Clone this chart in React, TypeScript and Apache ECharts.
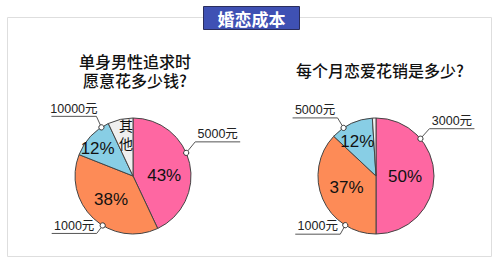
import React, { useEffect, useRef } from "react";
import * as echarts from "echarts";

const leftNames = ["5000元", "1000元", "10000元", "其他"];
const leftValues = [43, 38, 12, 7];
const rightNames = ["3000元", "1000元", "5000元", "其他"];
const rightValues = [50, 37, 12, 1];
const sliceColors = ["#fe67a2", "#fd8b57", "#88cee5", "#efefef"];

const mainTitle = "婚恋成本";
const leftTitleLines = ["单身男性追求时", "愿意花多少钱?"];
const rightTitle = "每个月恋爱花销是多少?";

// callout anchors (annotation layout): slice index, angle clockwise from top, elbow offset, side
const leftCallouts = [
  { idx: 0, angle: 66.5, dx: 9, dy: -11, side: 1 },
  { idx: 2, angle: 327, dx: -5, dy: -11, side: -1 },
  { idx: 1, angle: 211.5, dx: -6, dy: 8, side: -1 },
];
const rightCallouts = [
  { idx: 0, angle: 50, dx: 9, dy: -10, side: 1 },
  { idx: 2, angle: 326, dx: -6, dy: -10, side: -1 },
  { idx: 1, angle: 212, dx: -5, dy: 9, side: -1 },
];

// inner label nudges
const leftInnerShift = [[0, 6], [0, 0], [-12, -6], [0, -11]];
const rightInnerShift = [[-3, 0], [0, -1], [-5, -6], [0, 0]];

const R = 58;
const leftCenter = [133, 176];
const rightCenter = [376, 176];

function callout(center: number[], c: any, names: string[]) {
  const a = (c.angle * Math.PI) / 180;
  const px = center[0] + R * Math.sin(a);
  const py = center[1] - R * Math.cos(a);
  const ex = px + c.dx;
  const ey = py + c.dy;
  const len = 45;
  const endX = ex + c.side * len;
  const midX = (ex + endX) / 2;
  return [
    {
      type: "polyline",
      z: 20,
      shape: { points: [[px, py], [ex, ey], [endX, ey]] },
      style: { stroke: "#555", lineWidth: 1, fill: null },
      silent: true,
    },
    {
      type: "circle",
      z: 21,
      shape: { cx: px, cy: py, r: 2.6 },
      style: { fill: "#fff", stroke: "#333", lineWidth: 1 },
      silent: true,
    },
    {
      type: "text",
      z: 21,
      x: midX,
      y: ey - 1.5,
      style: {
        text: names[c.idx],
        fontSize: 12.5,
        fontFamily: "Liberation Sans, Noto Sans CJK SC, sans-serif",
        fill: "#222",
        align: "center",
        verticalAlign: "bottom",
      },
      silent: true,
    },
  ];
}

function pieSeries(center: number[], names: string[], values: number[], shifts: number[][], hideLast: boolean) {
  return {
    type: "pie",
    center,
    radius: R,
    startAngle: 90,
    clockwise: true,
    silent: true,
    emphasis: { disabled: true },
    itemStyle: { borderColor: "#444", borderWidth: 1 },
    labelLine: { show: false },
    label: {
      show: true,
      position: "inside",
      color: "#111",
      fontSize: 17,
      fontFamily: "Liberation Sans Narrow, Liberation Sans, sans-serif",
      formatter: (p: any) => {
        if (p.name === "其他") return hideLast ? "" : "{cjk|其}\n{cjk|他}";
        return p.value + "%";
      },
      rich: {
        cjk: {
          fontSize: 14,
          lineHeight: 18,
          fontFamily: "Noto Sans CJK SC, sans-serif",
          color: "#111",
        },
      },
    },
    labelLayout: (p: any) => ({ dx: shifts[p.dataIndex][0], dy: shifts[p.dataIndex][1] }),
    data: names.map((n, i) => ({
      name: n,
      value: values[i],
      itemStyle: { color: sliceColors[i] },
    })),
  };
}

export default function App() {
  const ref = useRef<HTMLDivElement>(null);
  useEffect(() => {
    document.body.style.margin = "0";
    const chart = echarts.init(ref.current!, null, { renderer: "svg" });
    const titleFont = "Noto Sans CJK SC, sans-serif";
    const titleStyle = {
      fontSize: 16,
      fontWeight: 500,
      fontFamily: titleFont,
      fill: "#111",
      align: "center",
      verticalAlign: "middle",
    };
    chart.setOption({
      animation: false,
      backgroundColor: "#fff",
      series: [
        pieSeries(leftCenter, leftNames, leftValues, leftInnerShift, false),
        pieSeries(rightCenter, rightNames, rightValues, rightInnerShift, true),
      ],
      graphic: [
        {
          type: "rect",
          z: 0,
          shape: { x: 7.5, y: 17.5, width: 484, height: 239 },
          style: { fill: null, stroke: "#dedede", lineWidth: 1 },
          silent: true,
        },
        {
          type: "rect",
          z: 30,
          shape: { x: 203.5, y: 6.5, width: 96, height: 23 },
          style: { fill: "#3f51b4", stroke: "#2a2d5c", lineWidth: 1 },
          silent: true,
        },
        {
          type: "text",
          z: 31,
          x: 251.5,
          y: 18.5,
          style: {
            text: mainTitle,
            fontSize: 17,
            fontWeight: "bold",
            fontFamily: titleFont,
            fill: "#fff",
            align: "center",
            verticalAlign: "middle",
          },
          silent: true,
        },
        { type: "text", z: 31, x: 135, y: 61, style: { ...titleStyle, text: leftTitleLines[0] }, silent: true },
        { type: "text", z: 31, x: 135, y: 80, style: { ...titleStyle, text: leftTitleLines[1] }, silent: true },
        { type: "text", z: 31, x: 380, y: 70, style: { ...titleStyle, text: rightTitle }, silent: true },
        ...leftCallouts.flatMap((c) => callout(leftCenter, c, leftNames)),
        ...rightCallouts.flatMap((c) => callout(rightCenter, c, rightNames)),
      ],
    });
    return () => chart.dispose();
  }, []);
  return (
    <div
      ref={ref}
      style={{ position: "fixed", left: 0, top: 0, width: 500, height: 268, background: "#fff" }}
    />
  );
}
